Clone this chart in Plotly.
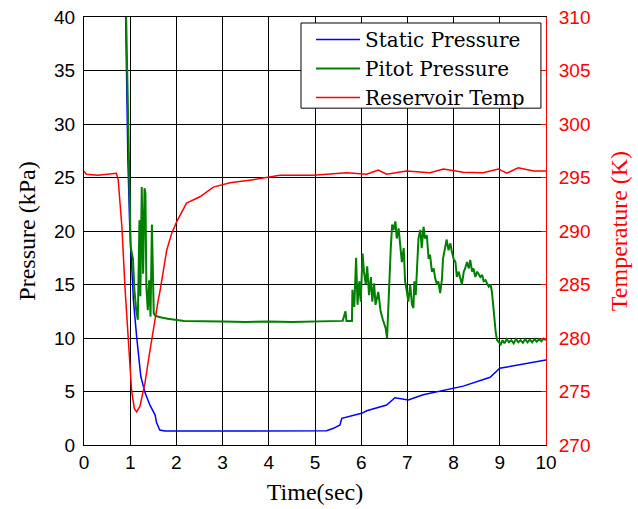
import plotly.graph_objects as go

# Static pressure (kPa)
t_static = [0.90, 0.95, 0.99, 1.05, 1.07, 1.14, 1.23, 1.32, 1.43, 1.54, 1.57, 1.64, 1.75,
            3.0, 5.25, 5.40, 5.54, 5.58, 5.76, 6.01, 6.12, 6.55, 6.73, 7.02, 7.34, 7.78,
            8.21, 8.79, 8.93, 9.0, 10.0]
p_static = [40.5, 26.6, 20.4, 14.5, 13.5, 10.1, 6.4, 4.9, 3.7, 2.8, 2.1, 1.4, 1.3,
            1.3, 1.34, 1.56, 1.87, 2.5, 2.7, 2.96, 3.2, 3.74, 4.42, 4.2, 4.7, 5.1,
            5.5, 6.33, 6.85, 7.17, 7.94]

# Pitot pressure (kPa)
t_pitot = [0.91, 0.95, 0.99, 1.01, 1.06, 1.09, 1.13, 1.165, 1.20, 1.22, 1.25, 1.28, 1.31,
           1.33, 1.35, 1.38, 1.41, 1.44, 1.47, 1.51, 1.54, 1.59, 1.70, 1.81, 2.17, 2.6,
           3.0, 3.5, 4.0, 4.5, 5.0, 5.31, 5.60, 5.66, 5.68, 5.80, 5.81, 5.85, 5.89, 5.92,
           5.96, 5.99, 6.03, 6.06, 6.10, 6.13, 6.17, 6.21, 6.24, 6.28, 6.31, 6.37, 6.42,
           6.47, 6.53, 6.56, 6.58, 6.61, 6.64, 6.67, 6.70, 6.74, 6.77, 6.81, 6.85, 6.88,
           6.92, 6.95, 6.99, 7.02, 7.06, 7.10, 7.13, 7.15, 7.18, 7.21, 7.24, 7.28, 7.31,
           7.35, 7.38, 7.42, 7.46, 7.49, 7.53, 7.57, 7.60, 7.64, 7.67, 7.71, 7.75, 7.77,
           7.80, 7.83, 7.85, 7.89, 7.93, 7.96, 8.00, 8.04, 8.07, 8.11, 8.15, 8.18, 8.22,
           8.25, 8.29, 8.33, 8.36, 8.40, 8.43, 8.47, 8.51, 8.54, 8.58, 8.62, 8.65, 8.69,
           8.72, 8.76, 8.80, 8.83, 8.85, 8.88, 8.91, 8.94, 8.98, 9.02, 9.06, 9.10, 9.15,
           9.20, 9.25, 9.30, 9.35, 9.40, 9.45, 9.50, 9.55, 9.60, 9.65, 9.70, 9.75, 9.80,
           9.85, 9.90, 9.95, 10.0]
p_pitot = [40.5, 30.0, 22.0, 18.5, 17.4, 14.5, 12.6, 11.7, 21.0, 13.9, 24.1, 16.0, 24.0,
           23.5, 14.8, 12.6, 15.4, 12.0, 20.6, 12.3, 12.1, 12.0, 11.9, 11.8, 11.6, 11.6,
           11.55, 11.5, 11.55, 11.5, 11.55, 11.55, 11.6, 12.5, 11.6, 11.6, 14.5, 12.9, 17.5, 13.1,
           15.3, 13.4, 17.9, 16.2, 15.0, 16.7, 14.0, 15.7, 13.4, 15.1, 13.1, 14.3, 12.5,
           11.7, 10.9, 10.0, 12.5, 15.0, 18.4, 20.6, 20.1, 20.9, 19.3, 20.25, 18.2, 17.1,
           18.4, 15.3, 14.3, 13.4, 15.0, 13.1, 12.8, 15.3, 14.0, 17.4, 19.3, 20.1, 18.4,
           20.4, 19.3, 19.6, 17.4, 17.8, 16.2, 16.5, 15.6, 15.0, 15.3, 14.2, 15.6, 17.4,
           18.1, 18.7, 19.2, 18.2, 18.85, 18.1, 17.4, 17.1, 15.7, 16.2, 15.4, 15.0, 16.2,
           16.5, 17.1, 16.5, 17.3, 16.2, 16.5, 15.7, 16.2, 16.0, 15.7, 15.9, 15.3, 15.4,
           15.1, 14.8, 15.0, 14.3, 13.4, 11.8, 10.6, 9.8, 9.6, 9.4, 9.8, 9.5, 9.9,
           9.6, 9.8, 9.5, 9.9, 9.6, 9.8, 9.55, 9.9, 9.6, 9.85, 9.6, 9.9, 9.65,
           9.9, 9.7, 9.95, 9.8]

# Reservoir temperature (K)
t_temp = [0.0, 0.05, 0.3, 0.5, 0.7, 0.74, 0.82, 0.89, 0.96, 1.03, 1.09, 1.14, 1.21, 1.32,
          1.43, 1.54, 1.61, 1.65, 1.79, 1.90, 2.01, 2.22, 2.51, 2.80, 3.16, 3.66, 4.24,
          4.96, 5.69, 6.12, 6.37, 6.55, 6.98, 7.49, 7.78, 8.21, 8.64, 8.97, 9.15, 9.40,
          9.73, 10.0]
T_res = [295.6, 295.3, 295.2, 295.3, 295.4, 294.8, 290.4, 284.5, 279.8, 275.1, 273.4,
         273.1, 273.6, 275.8, 278.9, 282.0, 283.6, 284.5, 288.2, 289.8, 290.9, 292.6,
         293.2, 294.1, 294.5, 294.8, 295.2, 295.2, 295.45, 295.3, 295.7, 295.3, 295.6,
         295.45, 295.8, 295.5, 295.45, 295.8, 295.4, 295.9, 295.6, 295.6]

SERIF = "Liberation Serif"
LEGEND_SERIF = "DejaVu Serif"
SANS = "Liberation Sans"

fig = go.Figure()
fig.add_trace(go.Scatter(x=t_static, y=p_static, mode="lines", name="Static Pressure",
                         line=dict(color="#0000ff", width=1.5)))
fig.add_trace(go.Scatter(x=t_pitot, y=p_pitot, mode="lines", name="Pitot Pressure",
                         line=dict(color="#008000", width=2)))
fig.add_trace(go.Scatter(x=t_temp, y=T_res, mode="lines", name="Reservoir Temp",
                         yaxis="y2", line=dict(color="#ff0000", width=1.5)))

# Opaque framed panel behind the legend entries
fig.add_shape(type="rect", xref="paper", yref="paper",
              x0=0.4697, x1=0.989, y0=0.787, y1=0.986,
              line=dict(color="black", width=1), fillcolor="white", layer="above")

fig.update_layout(
    width=638, height=509,
    margin=dict(l=84, r=92, t=17, b=64, autoexpand=False),
    paper_bgcolor="white", plot_bgcolor="white",
    showlegend=True,
    legend=dict(x=0.4913, y=0.993, xanchor="left", yanchor="top",
                bgcolor="rgba(0,0,0,0)", borderwidth=0,
                font=dict(family=LEGEND_SERIF, size=20, color="black"),
                itemwidth=44, tracegroupgap=0),
    xaxis=dict(range=[0, 10], dtick=1, tick0=0, showgrid=True, gridcolor="black",
               gridwidth=1, zeroline=False, showline=True, linecolor="black",
               linewidth=1, mirror="ticks", ticks="inside", ticklen=5,
               tickcolor="black", ticklabelstandoff=0, automargin=False,
               tickfont=dict(family=SANS, size=19, color="black"),
               title=dict(text="Time(sec)", standoff=11,
                          font=dict(family=SERIF, size=24, color="black"))),
    yaxis=dict(range=[0, 40], dtick=5, tick0=0, showgrid=True, gridcolor="black",
               gridwidth=1, zeroline=False, showline=True, linecolor="black",
               linewidth=1, ticks="inside", ticklen=5, tickcolor="black",
               ticklabelstandoff=4, automargin=False,
               tickfont=dict(family=SANS, size=19, color="black"),
               title=dict(text="Pressure (kPa)", standoff=11,
                          font=dict(family=SERIF, size=24, color="black"))),
    yaxis2=dict(range=[270, 310], dtick=5, tick0=270, overlaying="y", side="right",
                showgrid=False, zeroline=False, showline=True, linecolor="#ff0000",
                linewidth=1, ticks="inside", ticklen=5, tickcolor="#ff0000",
                ticklabelstandoff=8, automargin=False,
                tickfont=dict(family=SANS, size=19, color="#ff0000"),
                title=dict(text="Temperature (K)", standoff=20,
                           font=dict(family=SERIF, size=24, color="#ff0000"))),
)

fig.write_html("out.html")
